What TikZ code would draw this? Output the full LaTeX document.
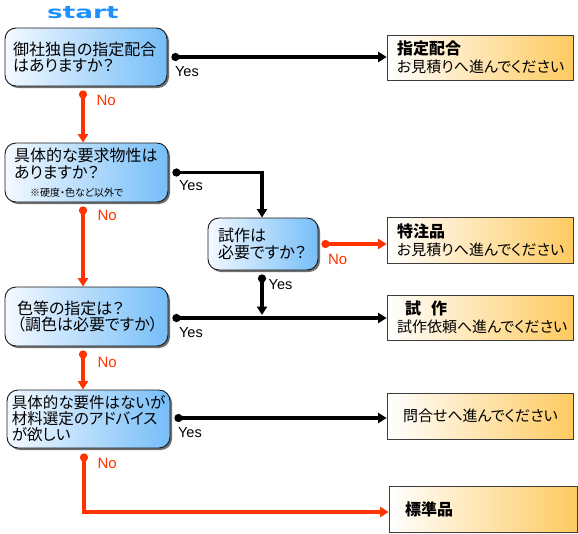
\documentclass[tikz,border=0pt]{standalone}
\usepackage{fontspec}
\setmainfont{Liberation Sans}
\newfontfamily\jp[RawFeature=+palt]{Noto Sans CJK JP}
\newfontfamily\dvs{DejaVu Sans}
\usetikzlibrary{positioning,calc,arrows.meta,shadows}
\definecolor{ink}{RGB}{25,25,25}
\definecolor{cQleft}{RGB}{244,249,255}
\definecolor{cQright}{RGB}{118,190,248}
\definecolor{cAright}{RGB}{254,202,96}
\definecolor{tNo}{RGB}{255,51,0}
\definecolor{tStart}{RGB}{30,144,255}
\newcommand{\anshead}{\jp\bfseries\fontsize{16}{18}\selectfont}

\begin{document}
\begin{tikzpicture}[
  x=1pt, y=-1pt,
  >={Triangle[length=8.5pt,width=10pt]},
  ask/.style={rounded corners=11pt, draw=ink, line width=0.9pt, left color=cQleft, right color=cQright, align=left, inner xsep=8pt, inner ysep=0pt, font=\jp\fontsize{16}{16.5}\selectfont, drop shadow={shadow xshift=2pt, shadow yshift=-2pt, fill=black!80, opacity=0.7}},
  ans/.style={draw=ink!85, line width=0.7pt, left color=white, middle color=cAright!40!white, right color=cAright, align=left, inner xsep=10pt, inner ysep=0pt, text width=166pt, minimum height=45pt, font=\jp\fontsize{15}{17}\selectfont, drop shadow={shadow xshift=1pt, shadow yshift=-1pt, fill=black!60, opacity=0.6}},
  yesline/.style={line width=3.3pt, draw=black, {Circle[length=8pt,width=8pt]}->},
  noline/.style={line width=3.3pt, draw=tNo, {Circle[length=8pt,width=8pt]}->},
  yes/.style={anchor=north west, inner sep=0pt, font=\fontsize{14.5}{15}\selectfont, xshift=2pt, yshift=-8pt},
  no/.style={anchor=north west, inner sep=0pt, text=tNo, font=\fontsize{15}{16}\selectfont, xshift=12pt, yshift=-3pt},
]
\useasboundingbox (0,0) rectangle (578,533);

% ---- start ----
\node[text=tStart, inner sep=0pt, font=\dvs\bfseries\fontsize{17}{17}\selectfont] (begin) at (83,13) {\scalebox{1.55}[1]{start}};

% ---- questions (left) ----
\node[ask, text width=146pt, minimum height=58pt] (q1) at (86,57) {御社独自の指定配合\\はありますか？};
\node[ask, inner xsep=9pt, text width=145pt, minimum height=59pt] (q2) at (86.5,172.5) {具体的な要求物性は\\ありますか？\\[1.5pt]\hspace*{16pt}{\fontsize{10}{12}\selectfont ※硬度・色など以外で}};
\node[ask, inner xsep=10pt, text width=90pt, minimum height=52pt] (q3) at (263,244) {試作は\\必要ですか？};
\node[ask, inner xsep=12pt, text width=139pt, minimum height=59pt] (q4) at (86.5,316.5) {色等の指定は？\\（調色は必要ですか）};
\node[ask, inner xsep=5pt, text width=153pt, minimum height=58pt, font=\jp\fontsize{15.5}{16}\selectfont] (q5) at (88.5,419) {具体的な要件はないが\\材料選定のアドバイス\\が欲しい};

% ---- answers (right) ----
\node[ans] (a1) at (480,57.5) {{\anshead 指定配合}\\[1pt]お見積りへ進んでください};
\node[ans, minimum height=46pt] (a2) at (480,240) {{\anshead 特注品}\\[1pt]お見積りへ進んでください};
\node[ans] (a3) at (480,317.5) {{\anshead\hspace*{8pt}試\hspace{10pt}作}\\[1pt]試作依頼へ進んでください};
\node[ans, inner xsep=16pt, text width=154pt, minimum height=46pt] (a4) at (480,416) {問合せへ進んでください};
\node[ans, inner xsep=16pt, text width=156pt, minimum height=46pt] (a5) at (483,509) {{\anshead 標準品}};

% ---- yes ----
\draw[yesline] ([xshift=4pt]q1.east) node[yes] {Yes} -- (q1.east -| a1.west);
\draw[yesline] ([xshift=4pt]q2.east) node[yes, xshift=3pt, yshift=2pt] {Yes} -| ([xshift=-1pt]q3.north);
\draw[yesline] ([xshift=-1pt,yshift=-4pt]q3.south) node[yes, xshift=3pt, yshift=5pt] {Yes} -- ([xshift=-1pt,yshift=1.5pt]q3.south |- q4.east);
\draw[yesline] ([xshift=4pt,yshift=-1.5pt]q4.east) node[yes, xshift=3pt] {Yes} -- ([yshift=-1.5pt]q4.east -| a3.west);
\draw[yesline] ([xshift=4pt,yshift=1pt]q5.east) node[yes] {Yes} -- ([yshift=1pt]q5.east -| a4.west);

% ---- no ----
\draw[noline] ([xshift=-3pt,yshift=-4pt]q1.south) node[no] {No} -- ([xshift=-3pt]q1.south |- q2.north);
\draw[noline] ([xshift=-3.5pt,yshift=-4pt]q2.south) node[no, xshift=1pt, yshift=1pt] {No} -- ([xshift=-3.5pt]q2.south |- q4.north);
\draw[noline] ([xshift=3pt]q3.east) node[no, xshift=-7pt, yshift=-6pt] {No} -- (q3.east -| a2.west);
\draw[noline] ([xshift=-3.5pt,yshift=-4pt]q4.south) node[no, xshift=1pt, yshift=-2pt] {No} -- ([xshift=-3.5pt]q4.south |- q5.north);
\draw[noline] ([xshift=-4.5pt,yshift=-5pt]q5.south) node[no] {No} |- ([yshift=-3pt]a5.west);

\end{tikzpicture}
\end{document}
